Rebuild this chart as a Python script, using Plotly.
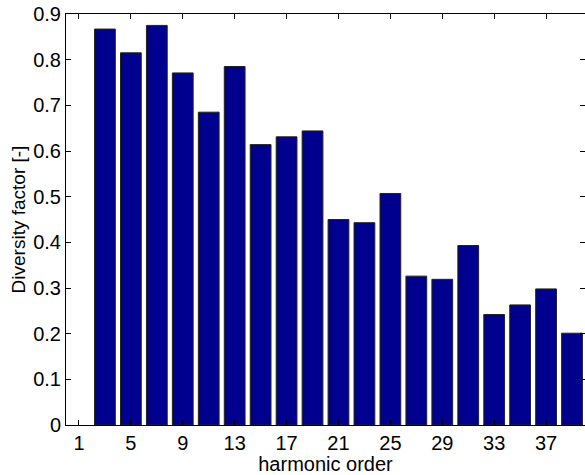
import plotly.graph_objects as go

harmonic_order = [3, 5, 7, 9, 11, 13, 15, 17, 19, 21, 23, 25, 27, 29, 31, 33, 35, 37, 39]
diversity_factor = [0.867, 0.815, 0.875, 0.771, 0.685, 0.785, 0.614, 0.631, 0.644,
                    0.450, 0.443, 0.507, 0.326, 0.319, 0.393, 0.242, 0.263, 0.298, 0.201]
x_ticks = [1, 5, 9, 13, 17, 21, 25, 29, 33, 37]
y_ticks = [0, 0.1, 0.2, 0.3, 0.4, 0.5, 0.6, 0.7, 0.8, 0.9]

fig = go.Figure(go.Bar(
    x=harmonic_order, y=diversity_factor, width=1.6,
    marker=dict(color="#00008F", line=dict(color="#222222", width=1)),
))

font = dict(family="Liberation Sans, Arial, sans-serif", size=20, color="black")
fig.update_layout(
    width=585, height=475,
    margin=dict(l=66, r=0, t=14, b=50),
    plot_bgcolor="white", paper_bgcolor="white",
    font=font, showlegend=False,
    xaxis=dict(range=[0, 40], tickvals=x_ticks, ticks="inside", ticklen=5,
               tickcolor="black", showline=True, linecolor="black", linewidth=1,
               mirror="ticks", showgrid=False, zeroline=False,
               title=dict(text="harmonic order", font=font, standoff=0)),
    yaxis=dict(range=[0, 0.9], tickvals=y_ticks, ticktext=[("%g" % v) for v in y_ticks],
               ticks="inside", ticklen=5,
               tickcolor="black", showline=True, linecolor="black", linewidth=1,
               mirror="ticks", showgrid=False, zeroline=False,
               title=dict(text="Diversity factor [-]", font=dict(family=font["family"], size=19, color="black"), standoff=2)),
)

fig.write_html("out.html")
